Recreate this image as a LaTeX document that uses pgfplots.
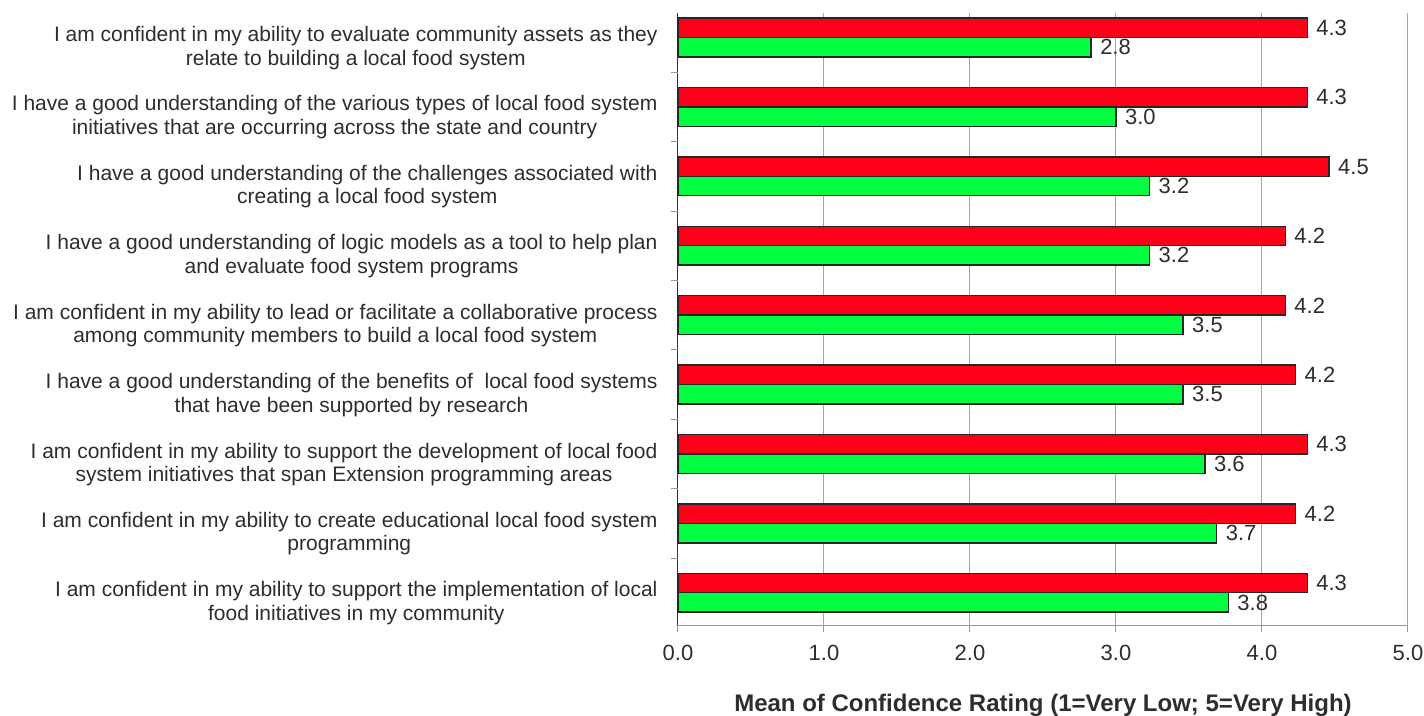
\documentclass[border=0pt]{standalone}
\usepackage{fontspec}
\setmainfont{Liberation Sans}
\usepackage{pgfplots}
\pgfplotsset{compat=1.18}
\definecolor{barred}{RGB}{255,0,25}
\definecolor{bargreen}{RGB}{0,255,64}
\definecolor{txt}{RGB}{45,45,45}
\begin{document}
\begin{tikzpicture}
\useasboundingbox (-678pt,-90pt) rectangle (746pt,625pt);
\begin{axis}[
  scale only axis,
  width=730pt, height=612pt,
  at={(0pt,0pt)}, anchor=south west,
  xmin=0, xmax=5, ymin=0.535, ymax=9.353,
  axis lines*=left,
  x axis line style={gray!80, line width=1pt},
  y axis line style={black!80, line width=1pt},
  /pgf/number format/assume math mode=true,
  xtick={0,1,2,3,4,5},
  xticklabel={\pgfmathprintnumber[fixed,fixed zerofill,precision=1,assume math mode=true]{\tick}},
  xticklabel style={font=\fontsize{22}{24}\selectfont, color=txt, yshift=-10pt},
  xmajorgrids,
  grid style={gray!70, line width=1pt},
  tick align=outside,
  major tick length=7pt,
  tick style={gray!80, line width=1pt},
  ytick={0.85,1.85,2.85,3.85,4.85,5.85,6.85,7.85,8.85},
  ytick style={draw=none},
  yticklabels={
    {I am confident in my ability to support the implementation of local\\food initiatives in my community},
    {I am confident in my ability to create educational local food system\\programming},
    {I am confident in my ability to support the development of local food\\system initiatives that span Extension programming areas},
    {I have a good understanding of the benefits of\ \ local food systems\\that have been supported by research},
    {I am confident in my ability to lead or facilitate a collaborative process\\among community members to build a local food system},
    {I have a good understanding of logic models as a tool to help plan\\and evaluate food system programs},
    {I have a good understanding of the challenges associated with\\creating a local food system},
    {I have a good understanding of the various types of local food system\\initiatives that are occurring across the state and country},
    {I am confident in my ability to evaluate community assets as they\\relate to building a local food system}
  },
  yticklabel style={font=\fontsize{21}{23.5}\selectfont, color=txt, align=center, xshift=-10pt},
  extra y ticks={1.5,2.5,3.5,4.5,5.5,6.5,7.5,8.5},
  extra y tick labels={},
  extra y tick style={ytick style={draw=gray!80, line width=1pt}, major tick length=7pt},
  xlabel={\textbf{Mean of Confidence Rating (1=Very Low; 5=Very High)}},
  xlabel style={at={(axis description cs:0.5,0)}, anchor=center, yshift=-80pt, font=\fontsize{24}{26}\selectfont, color=txt},
  xbar, bar width=0.28, bar shift=0pt,
  nodes near coords={\pgfmathprintnumber[fixed,fixed zerofill,precision=1,assume math mode=true]{\pgfplotspointmeta}},
  every node near coord/.append style={font=\fontsize{22}{24}\selectfont, color=txt, xshift=5pt},
  clip=false,
]
\addplot[draw=black!85, line width=1.5pt, fill=barred] coordinates {
  (4.31,9.14) (4.31,8.14) (4.46,7.14) (4.16,6.14) (4.16,5.14)
  (4.23,4.14) (4.31,3.14) (4.23,2.14) (4.31,1.14)
};
\addplot[draw=black!85, line width=1.5pt, fill=bargreen] coordinates {
  (2.83,8.86) (3.00,7.86) (3.23,6.86) (3.23,5.86) (3.46,4.86)
  (3.46,3.86) (3.61,2.86) (3.69,1.86) (3.77,0.86)
};
\end{axis}
\end{tikzpicture}
\end{document}
